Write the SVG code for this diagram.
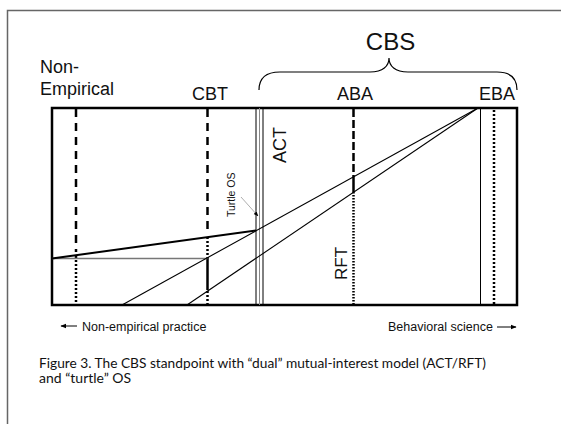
<svg xmlns="http://www.w3.org/2000/svg" width="561" height="424" viewBox="0 0 561 424">
<defs>
<style>
.lbl{font-family:"Liberation Sans",Arial,sans-serif;fill:#111}
.thin{stroke:#000;stroke-width:1;fill:none}
.dash{stroke:#000;stroke-width:2.5;stroke-dasharray:8 6;fill:none}
.dot{stroke:#000;stroke-width:2.5;stroke-dasharray:2 2;fill:none}
.cap{font-family:"Lato","DejaVu Sans",sans-serif;font-size:14px;fill:#111}
</style>
<marker id="ah" viewBox="0 0 10 10" refX="9" refY="5" markerWidth="6" markerHeight="6" orient="auto">
<path d="M0,1 L10,5 L0,9 Z" fill="#000"/>
</marker>
</defs>
<rect width="561" height="424" fill="#fff"/>
<g id="frame">
<path d="M7.5,424 V10.5 H561" fill="none" stroke="#666" stroke-width="1.5"/>
</g>
<g id="main-box">
<rect x="52" y="108" width="465" height="197" fill="none" stroke="#000" stroke-width="2.5"/>
</g>
<g id="labels-top">
<text class="lbl" x="390.5" y="50" font-size="24" text-anchor="middle">CBS</text>
<path d="M259,90 C259,78 266,72 280,72 L370,72 C383,72 389,66 389,58 C389,66 395,72 408,72 L497,72 C511,72 517,78 517,90" fill="none" stroke="#000" stroke-width="1.2"/>
<text class="lbl" x="40" y="72.7" font-size="18">Non-</text>
<text class="lbl" x="40" y="95" font-size="18">Empirical</text>
<text class="lbl" x="192" y="100" font-size="18">CBT</text>
<text class="lbl" x="337" y="100" font-size="18">ABA</text>
<text class="lbl" x="479" y="100" font-size="18">EBA</text>
</g>
<g id="non-empirical-line">
<line class="dash" x1="76" y1="109" x2="76" y2="252"/>
<line class="dot" x1="76" y1="256" x2="76" y2="304"/>
</g>
<g id="cbt-line">
<line class="dash" x1="207.5" y1="109" x2="207.5" y2="232"/>
<line class="dot" x1="207.5" y1="237" x2="207.5" y2="258"/>
<line x1="207.5" y1="258" x2="207.5" y2="290" stroke="#000" stroke-width="2.5"/>
<line class="dot" x1="207.5" y1="291" x2="207.5" y2="304"/>
</g>
<g id="act">
<line class="thin" x1="256" y1="108" x2="256" y2="305"/>
<line x1="259.5" y1="108" x2="259.5" y2="305" stroke="#888" stroke-width="1"/>
<line class="thin" x1="263" y1="108" x2="263" y2="305"/>
<text class="lbl" transform="translate(286,163) rotate(-90)" font-size="18">ACT</text>
</g>
<g id="turtle-os">
<text class="lbl" transform="translate(235,217) rotate(-90)" font-size="10.5">Turtle OS</text>
</g>
<g id="aba-line">
<line x1="353.5" y1="109" x2="353.5" y2="180" stroke="#000" stroke-width="2.5" stroke-dasharray="8 3"/>
<line x1="353.5" y1="180" x2="353.5" y2="192" stroke="#000" stroke-width="2.5"/>
<line x1="353.5" y1="192" x2="353.5" y2="304" stroke="#000" stroke-width="2.5" stroke-dasharray="1.5 1.5"/>
<text class="lbl" transform="translate(346.5,280) rotate(-90)" font-size="17">RFT</text>
</g>
<g id="eba-line">
<line class="thin" x1="480.5" y1="108" x2="480.5" y2="305"/>
<line class="dot" x1="494" y1="110" x2="494" y2="304"/>
</g>
<g id="connectors">
<line x1="52" y1="258.5" x2="207.5" y2="258.5" stroke="#777" stroke-width="1.5"/>
<line x1="52" y1="258.5" x2="256" y2="230.5" stroke="#000" stroke-width="2"/>
<line x1="122" y1="305" x2="478" y2="108" stroke="#000" stroke-width="1.1"/>
<line x1="187" y1="305" x2="478" y2="108" stroke="#000" stroke-width="1.1"/>
<line x1="241" y1="197" x2="258" y2="216" stroke="#999" stroke-width="0.8" marker-end="url(#ah)"/>
</g>
<g id="axis-labels">
<line x1="77" y1="326" x2="61" y2="326" stroke="#000" stroke-width="1" marker-end="url(#ah)"/>
<text class="lbl" x="82" y="331" font-size="12.5">Non-empirical practice</text>
<text class="lbl" x="388" y="331" font-size="12.5">Behavioral science</text>
<line x1="497" y1="327" x2="516" y2="327" stroke="#000" stroke-width="1" marker-end="url(#ah)"/>
</g>
<g id="caption">
<text class="cap" x="39" y="367.5" textLength="447" lengthAdjust="spacingAndGlyphs">Figure 3. The CBS standpoint with “dual” mutual-interest model (ACT/RFT)</text>
<text class="cap" x="39" y="383">and “turtle” OS</text>
</g>
</svg>
